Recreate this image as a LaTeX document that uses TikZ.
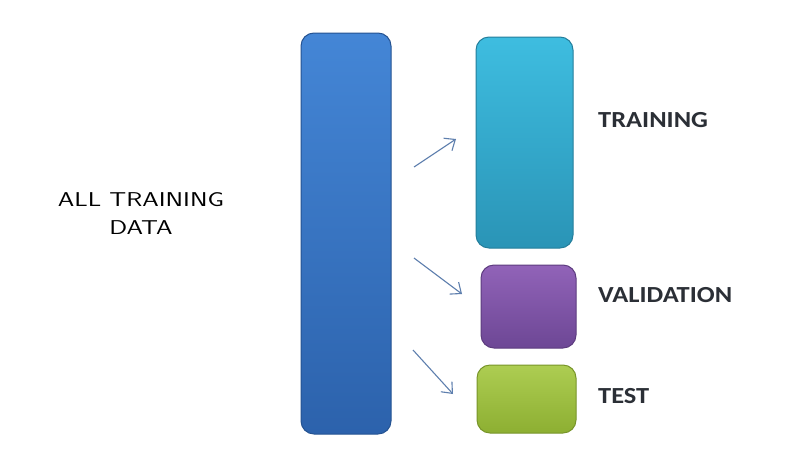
\documentclass[tikz,border=0pt]{standalone}
\usepackage{fontspec}
\newfontfamily\allfont[FakeStretch=1.32]{Latin Modern Sans}
\newfontfamily\carlitofont[FakeStretch=1.15]{Carlito}
\usetikzlibrary{arrows.meta}
\definecolor{bartop}{HTML}{4486D6}
\definecolor{barbot}{HTML}{2C62AC}
\definecolor{trtop}{HTML}{3EBDE0}
\definecolor{trbot}{HTML}{2A94B6}
\definecolor{vatop}{HTML}{9163B8}
\definecolor{vabot}{HTML}{6D4795}
\definecolor{tetop}{HTML}{ADCD52}
\definecolor{tebot}{HTML}{8DAF32}
\definecolor{arr}{HTML}{5E7FAE}
\definecolor{lbl}{HTML}{2B2F36}
\tikzset{
  block/.style={rounded corners=13pt, line width=1pt},
  splitarrow/.style={draw=arr, line width=1.1pt, -{Straight Barb[length=9pt,width=15pt,line width=1.1pt]}},
  setlabel/.style={anchor=west, font=\carlitofont\bfseries\fontsize{23}{23}\selectfont, text=lbl, inner sep=0pt},
}
\begin{document}
\begin{tikzpicture}[x=1pt,y=-1pt]
\useasboundingbox (0,0) rectangle (810,474);
\fill[white] (0,0) rectangle (810,474);
\draw[block, draw=barbot!85!black, top color=bartop, bottom color=barbot] (301,33) rectangle (391,434);
\node[inner sep=0pt, minimum width=90pt, minimum height=401pt] (all) at (346,233.5) {};
\draw[block, draw=trbot!85!black, top color=trtop, bottom color=trbot] (476,37) rectangle (573,248);
\node[inner sep=0pt, minimum width=97pt, minimum height=211pt] (train) at (524.5,142.5) {};
\draw[block, draw=vabot!85!black, top color=vatop, bottom color=vabot] (481,265) rectangle (576,348);
\node[inner sep=0pt, minimum width=95pt, minimum height=83pt] (val) at (528.5,306.5) {};
\draw[block, draw=tebot!85!black, top color=tetop, bottom color=tebot] (477,365) rectangle (576,433);
\node[inner sep=0pt, minimum width=99pt, minimum height=68pt] (test) at (526.5,399) {};

\node[font=\allfont\fontsize{20}{28}\selectfont, align=center, text=black] (alltxt) at (141,214) {ALL TRAINING\\DATA};

\node[setlabel] (ltrain) at (598,120) {TRAINING};
\node[setlabel] (lval) at (598,295) {VALIDATION};
\node[setlabel] (ltest) at (598,396) {TEST};

\coordinate (a1s) at (414,167); \coordinate (a1e) at (456,139);
\coordinate (a2s) at (414,258); \coordinate (a2e) at (462,294);
\coordinate (a3s) at (413,350); \coordinate (a3e) at (453,394);
\draw[splitarrow] (a1s) -- (a1e);
\draw[splitarrow] (a2s) -- (a2e);
\draw[splitarrow] (a3s) -- (a3e);
\end{tikzpicture}
\end{document}
